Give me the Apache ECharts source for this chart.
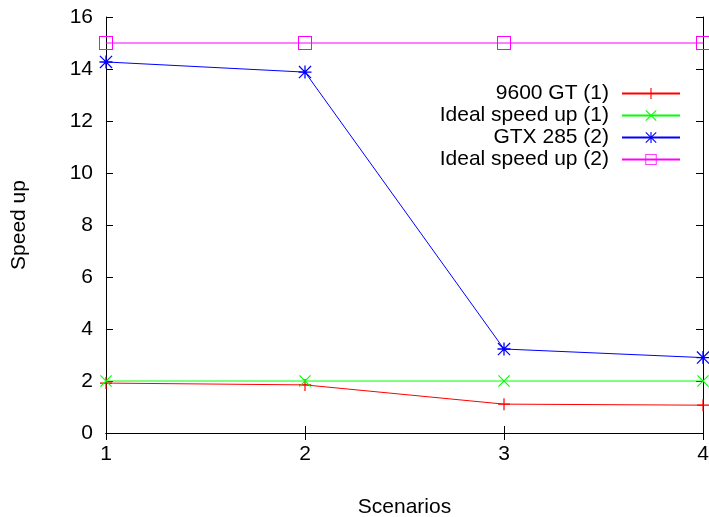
<!DOCTYPE html>
<html>
<head>
<meta charset="utf-8">
<script src="https://cdn.jsdelivr.net/npm/echarts@6/dist/echarts.min.js"></script>
<style>
  html, body { margin: 0; padding: 0; background: #fff; }
  #chart { width: 709px; height: 517px; }
</style>
</head>
<body>
<div id="chart"></div>
<script>
var myChart = echarts.init(document.getElementById('chart'));

// data
var scenarios = [1, 2, 3, 4];
var gt9600 = [1.92, 1.85, 1.11, 1.07];
var ideal1 = [2, 2, 2, 2];
var gtx285 = [14.27, 13.88, 3.23, 2.9];
var ideal2 = [15, 15, 15, 15];
var seriesNames = ['9600 GT (1)', 'Ideal speed up (1)', 'GTX 285 (2)', 'Ideal speed up (2)'];

// gnuplot-like point shapes
var plusPath = 'path://M5.4,0h1.2v5.4h5.4v1.2h-5.4v5.4h-1.2v-5.4h-5.4v-1.2h5.4z';
var crossPath = 'path://M0,0.8L0.8,0L12,11.2L11.2,12Z M11.2,0L12,0.8L0.8,12L0,11.2Z';
var starPath = 'path://M5.4,0h1.2v5.4h5.4v1.2h-5.4v5.4h-1.2v-5.4h-5.4v-1.2h5.4z M0,0.8L0.8,0L12,11.2L11.2,12Z M11.2,0L12,0.8L0.8,12L0,11.2Z';
var boxPath = 'path://M0,0h14v14h-14z M1,1v12h12v-12z';

var font = 'Liberation Sans, Arial, Helvetica, sans-serif';
var fs = 21;

function pairs(vals) {
    return scenarios.map(function (x, i) { return [x, vals[i]]; });
}

function makeSeries(name, vals, color, symbol, size) {
    return {
        name: name,
        type: 'line',
        data: pairs(vals),
        symbol: symbol,
        symbolSize: size,
        clip: false,
        animation: false,
        itemStyle: { color: color },
        lineStyle: { color: color, width: 1 }
    };
}

var option = {
    backgroundColor: '#fff',
    animation: false,
    textStyle: { fontFamily: font },
    grid: { left: 106, right: 6, top: 17, bottom: 84, outerBoundsMode: 'none' },
    legend: {
        orient: 'vertical',
        right: 28,
        top: 83,
        padding: 0,
        align: 'right',
        itemWidth: 58,
        itemHeight: 14,
        itemGap: 1,
        data: seriesNames,
        textStyle: { color: '#000', fontSize: fs, fontFamily: font, padding: [0, 8, 0, 0] }
    },
    xAxis: [{
        type: 'value',
        min: 1, max: 4, interval: 1,
        name: 'Scenarios',
        nameLocation: 'middle',
        nameGap: 64,
        nameTextStyle: { color: '#000', fontSize: fs, fontFamily: font },
        axisLine: { lineStyle: { color: '#000', width: 1 } },
        axisTick: { inside: true, length: 7, lineStyle: { color: '#000' } },
        axisLabel: { color: '#000', fontSize: fs, fontFamily: font, margin: 11 },
        splitLine: { show: false }
    }, {
        type: 'value',
        position: 'top',
        min: 1, max: 4, interval: 1,
        axisLine: { lineStyle: { color: '#000', width: 1 } },
        axisTick: { inside: true, length: 7, lineStyle: { color: '#000' } },
        axisLabel: { show: false },
        splitLine: { show: false }
    }],
    yAxis: [{
        type: 'value',
        min: 0, max: 16, interval: 2,
        name: 'Speed up',
        nameLocation: 'middle',
        nameGap: 76,
        nameTextStyle: { color: '#000', fontSize: fs, fontFamily: font },
        axisLine: { show: true, lineStyle: { color: '#000', width: 1 } },
        axisTick: { show: true, inside: true, length: 7, lineStyle: { color: '#000' } },
        axisLabel: { color: '#000', fontSize: fs, fontFamily: font, margin: 13 },
        splitLine: { show: false }
    }, {
        type: 'value',
        position: 'right',
        min: 0, max: 16, interval: 2,
        axisLine: { show: true, lineStyle: { color: '#000', width: 1 } },
        axisTick: { show: true, inside: true, length: 7, lineStyle: { color: '#000' } },
        axisLabel: { show: false },
        splitLine: { show: false }
    }],
    series: [
        makeSeries(seriesNames[0], gt9600, '#ff0000', plusPath, 12),
        makeSeries(seriesNames[1], ideal1, '#00ff00', crossPath, 12),
        makeSeries(seriesNames[2], gtx285, '#0000ff', starPath, 13),
        makeSeries(seriesNames[3], ideal2, '#ff00ff', boxPath, 14)
    ]
};

myChart.setOption(option);
</script>
</body>
</html>
